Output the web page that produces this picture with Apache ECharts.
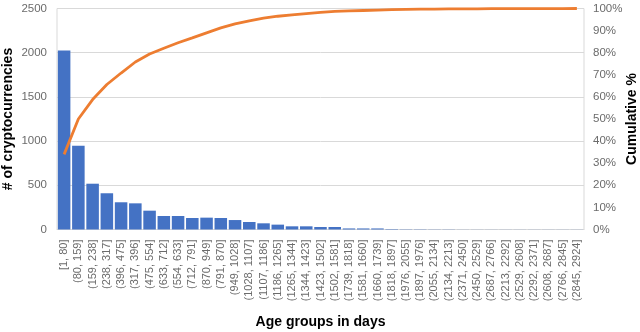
<!DOCTYPE html>
<html>
<head>
<meta charset="utf-8">
<script src="https://cdn.jsdelivr.net/npm/echarts@6/dist/echarts.min.js"></script>
<style>
  html, body { margin: 0; padding: 0; background: #fff; }
  #main { width: 640px; height: 332px; }
</style>
</head>
<body>
<div id="main"></div>
<script>
const ageGroups = [
  '[1, 80]', '(80, 159]', '(159, 238]', '(238, 317]', '(396, 475]', '(317, 396]',
  '(475, 554]', '(633, 712]', '(554, 633]', '(712, 791]', '(870, 949]', '(791, 870]',
  '(949, 1028]', '(1028, 1107]', '(1107, 1186]', '(1186, 1265]', '(1265, 1344]',
  '(1344, 1423]', '(1423, 1502]', '(1502, 1581]', '(1739, 1818]', '(1581, 1660]',
  '(1660, 1739]', '(1818, 1897]', '(1976, 2055]', '(1897, 1976]', '(2055, 2134]',
  '(2134, 2213]', '(2371, 2450]', '(2450, 2529]', '(2687, 2766]', '(2213, 2292]',
  '(2529, 2608]', '(2292, 2371]', '(2608, 2687]', '(2766, 2845]', '(2845, 2924]'
]

const coinCounts = [
  2025, 948, 518, 410, 308, 296, 213, 153, 153, 130, 134, 130,
  107, 85, 70, 55, 36, 36, 28, 28, 12, 12, 12, 5, 3, 3, 2,
  2, 1, 1, 1, 1, 1, 1, 1, 1, 1
]

const cumulativePct = [
  34, 50, 58.8, 65.6, 70.8, 75.8, 79.4, 82, 84.5, 86.7, 89, 91.2,
  93, 94.4, 95.6, 96.5, 97.1, 97.7, 98.2, 98.7, 98.9, 99.1, 99.3,
  99.5, 99.6, 99.7, 99.75, 99.8, 99.85, 99.87, 99.9, 99.92, 99.94,
  99.96, 99.97, 99.98, 100
]

const FONT = 'Liberation Sans'
const LABEL_COLOR = '#6b6b6b'
const GRID_COLOR = '#d9d9d9'
const titleStyle = { fontFamily: FONT, fontSize: 14, fontWeight: 'bold', color: '#000' }

const chart = echarts.init(document.getElementById('main'))

chart.setOption({
  animation: false,
  grid: {
    left: 57, right: 56, top: 8.5, bottom: 102.5,
    outerBoundsMode: 'none',
    show: true, borderColor: GRID_COLOR, borderWidth: 1
  },
  xAxis: {
    type: 'category',
    data: ageGroups,
    name: 'Age groups in days',
    nameLocation: 'middle',
    nameGap: 86,
    nameMoveOverlap: false,
    nameTextStyle: titleStyle,
    axisLine: { lineStyle: { color: GRID_COLOR } },
    axisTick: { show: false },
    axisLabel: {
      interval: 0, rotate: 90, margin: 10,
      fontFamily: FONT, fontSize: 11, color: LABEL_COLOR
    }
  },
  yAxis: [
    {
      type: 'value',
      min: 0, max: 2500, interval: 500,
      name: '# of cryptocurrencies',
      nameLocation: 'middle',
      nameGap: 42,
      nameMoveOverlap: false,
      nameTextStyle: titleStyle,
      axisLabel: { fontFamily: FONT, fontSize: 11.5, color: LABEL_COLOR, margin: 10, formatter: v => String(v) },
      splitLine: { lineStyle: { color: GRID_COLOR } }
    },
    {
      type: 'value',
      min: 0, max: 100, interval: 10,
      name: 'Cumulative %',
      nameLocation: 'middle',
      nameGap: 41,
      nameMoveOverlap: false,
      nameTextStyle: titleStyle,
      axisLabel: { fontFamily: FONT, fontSize: 11.5, color: LABEL_COLOR, margin: 9, formatter: '{value}%' },
      splitLine: { show: false }
    }
  ],
  series: [
    {
      type: 'bar',
      data: coinCounts,
      barCategoryGap: '12%',
      itemStyle: { color: '#4472C4' }
    },
    {
      type: 'line',
      yAxisIndex: 1,
      data: cumulativePct,
      showSymbol: false,
      lineStyle: { color: '#ED7D31', width: 2.8 },
      itemStyle: { color: '#ED7D31' }
    }
  ]
})
</script>
</body>
</html>
